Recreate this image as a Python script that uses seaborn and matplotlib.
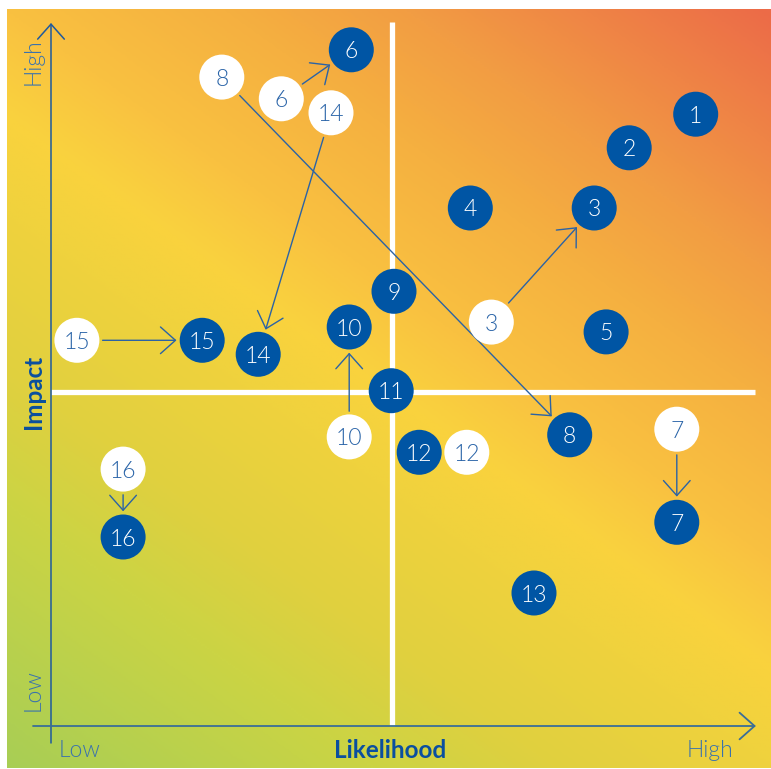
import numpy as np
import pandas as pd
import matplotlib
matplotlib.use("Agg")
import matplotlib.pyplot as plt
from matplotlib.colors import LinearSegmentedColormap
import seaborn as sns

# ---------------- data ----------------
risk_ids = list(range(1, 17))
current_likelihood = [9.21, 8.26, 7.76, 5.99, 7.93, 4.29, 8.94, 7.41, 4.90, 4.26, 4.86, 5.26, 6.90, 2.96, 2.16, 1.03]
current_impact = [8.74, 8.26, 7.40, 7.40, 5.63, 9.66, 2.91, 4.16, 6.21, 5.70, 4.79, 3.91, 1.90, 5.31, 5.51, 2.70]

previous_ids = [3, 6, 7, 8, 10, 12, 14, 15, 16]
previous_likelihood = [6.29, 3.29, 8.94, 2.44, 4.26, 5.94, 4.00, 0.37, 1.03]
previous_impact = [5.77, 8.96, 4.24, 9.27, 4.13, 3.91, 8.76, 5.51, 3.67]
arrow_ids = [3, 6, 7, 8, 10, 14, 15, 16]

likelihood_threshold = 4.87
impact_threshold = 4.77

x_axis_title = "Likelihood"
y_axis_title = "Impact"
level_labels = ["Low", "High"]

# ---------------- figure ----------------
sns.set_theme(style="white")
plt.rcParams["font.family"] = ["Lato", "DejaVu Sans"]

W, H, DPI = 771, 769, 100
fig = plt.figure(figsize=(W / DPI, H / DPI), dpi=DPI)
fig.patch.set_facecolor("white")
ax = fig.add_axes([0, 0, 1, 1])
XLIM = (-51 / 70, 720 / 70)
YLIM = (-43 / 70, 726 / 70)

# gradient background
cmap = LinearSegmentedColormap.from_list(
    "risk",
    [(0.0, "#a8ce55"), (0.2, "#cbd444"), (0.3, "#e0d03f"), (0.42, "#efd23d"),
     (0.5, "#fad23e"), (0.58, "#f9c141"), (0.7, "#f5b040"), (0.8, "#f29d43"),
     (1.0, "#ec6b48")])
u = np.linspace(0, 1, 400)
v = np.linspace(0, 1, 400)
U, V = np.meshgrid(u, v)
T = 0.42 * U + 0.58 * V
ax.imshow(T, cmap=cmap, origin="lower", aspect="auto",
          extent=[-44 / 70, 720 / 70, -42 / 70, 717 / 70], zorder=0,
          vmin=0, vmax=1, interpolation="bilinear")

# quadrant lines
ax.plot([likelihood_threshold, likelihood_threshold], [0, 10.057], color="white", lw=3.8,
        solid_capstyle="butt", zorder=1)
ax.plot([0, 10.057], [impact_threshold, impact_threshold], color="white", lw=3.8,
        solid_capstyle="butt", zorder=1)

# axis arrows
axis_col = "#1f5a9e"
ax.annotate("", xy=(0, 10.043), xytext=(0, -0.243),
            arrowprops=dict(arrowstyle="->,head_length=0.9,head_width=0.8", color=axis_col,
                            lw=1.1, shrinkA=0, shrinkB=0), zorder=2)
ax.annotate("", xy=(10.07, 0), xytext=(-0.257, 0),
            arrowprops=dict(arrowstyle="->,head_length=0.9,head_width=0.8", color="#3a6e98",
                            lw=1.3, shrinkA=0, shrinkB=0), zorder=2)

# movement arrows
cur = {i: (x, y) for i, x, y in zip(risk_ids, current_likelihood, current_impact)}
prev = {i: (x, y) for i, x, y in zip(previous_ids, previous_likelihood, previous_impact)}
for i in arrow_ids:
    ax.annotate("", xy=cur[i], xytext=prev[i],
                arrowprops=dict(arrowstyle="->,head_length=0.9,head_width=0.8",
                                color="#2b63a5", lw=1.0, shrinkA=18.5, shrinkB=18.5),
                zorder=2)

# circles
df = pd.DataFrame({
    "id": previous_ids + risk_ids,
    "likelihood": previous_likelihood + current_likelihood,
    "impact": previous_impact + current_impact,
    "status": ["previous"] * len(previous_ids) + ["current"] * len(risk_ids),
})
sns.scatterplot(data=df, x="likelihood", y="impact", hue="status",
                palette={"previous": "white", "current": "#0055a4"},
                s=1050, linewidth=0, legend=False, ax=ax, zorder=3)
ax.set_xlim(*XLIM)
ax.set_ylim(*YLIM)
ax.axis("off")

for _, r in df.iterrows():
    col = "#2a64a8" if r["status"] == "previous" else "white"
    ax.text(r["likelihood"], r["impact"], str(r["id"]), ha="center", va="center_baseline",
            fontsize=16.5, fontweight=300, color=col, zorder=4)

# axis labels
label_col = "#3a72ad"
title_col = "#0a4f9f"
title_font = ["Liberation Sans Narrow", "Lato", "DejaVu Sans"]
ax.text(4.84, -0.343, x_axis_title, ha="center", va="center", fontsize=17.5,
        fontweight="bold", color=title_col, family=title_font)
ax.text(-0.257, 4.77, y_axis_title, ha="center", va="center", fontsize=17.5, rotation=90,
        fontweight="bold", color=title_col, family=title_font)
ax.text(0.414, -0.343, level_labels[0], ha="center", va="center", fontsize=16.5,
        fontweight=300, color=label_col)
ax.text(9.41, -0.343, level_labels[1], ha="center", va="center", fontsize=16.5,
        fontweight=300, color=label_col)
ax.text(-0.257, 9.49, level_labels[1], ha="center", va="center", fontsize=16.5, rotation=90,
        fontweight=300, color=label_col)
ax.text(-0.257, 0.51, level_labels[0], ha="center", va="center", fontsize=16.5, rotation=90,
        fontweight=300, color=label_col)

fig.savefig("out.png", dpi=DPI)
